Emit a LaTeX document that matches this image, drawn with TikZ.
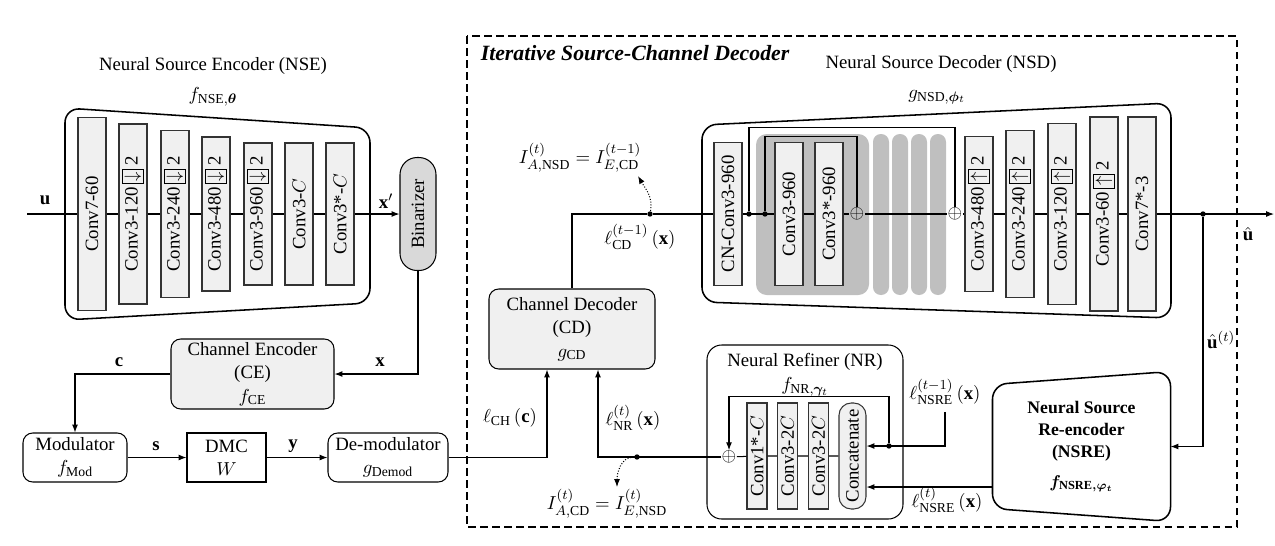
\documentclass[tikz,border=0pt,11pt]{standalone}
\usepackage{fontspec}
\setmainfont{Liberation Serif}
\usepackage{amsmath}
\usepackage{bm}
\usetikzlibrary{arrows.meta,calc}

\setlength{\fboxsep}{1pt}
\setlength{\fboxrule}{0.6pt}
\newcommand{\pxu}{0.0205cm}
\newcommand{\dsamp}{\,\fbox{$\downarrow$}\,2}
\newcommand{\usamp}{\,\fbox{$\uparrow$}\,2}

\tikzset{
  convlayer/.style={draw=black!80, fill=gray!12, rotate=90, inner sep=0pt,
    minimum height=28*\pxu, minimum width=#1*\pxu},
  boxsize/.style 2 args={minimum width=#1*\pxu, minimum height=#2*\pxu},
  blockbox/.style={draw, rounded corners=2mm, align=center, inner sep=0pt},
  grayblock/.style={blockbox, fill=gray!12},
  resfill/.style={fill=black!25, inner sep=0pt},
  arr/.style={-{Latex[length=1.6mm,width=1.2mm]}},
  joint/.style={circle, fill, inner sep=0pt, minimum size=1.1mm},
  trapframe/.style={line width=0.9pt, rounded corners=3mm},
}

\begin{document}
\begin{tikzpicture}[x=\pxu, y=-\pxu, line width=0.6pt]
  \useasboundingbox (0,0) rectangle (1275,545);

  % neural source encoder
  \draw[trapframe] (65,214) -- (65,108) -- (370,128) -- (370,303) -- (65,320) -- cycle;
  \node (nsetitle) at (213,66) {Neural Source Encoder (NSE)};
  \node (nsefun) at (213,97) {$f_{\mathrm{NSE},\boldsymbol{\theta}}$};
  \coordinate (uin) at (27,214);
  \node[convlayer=193] (enc1) at (92,214) {Conv7-60};
  \node[convlayer=180] (enc2) at (133,214) {Conv3-120\dsamp};
  \node[convlayer=167] (enc3) at (175,214) {Conv3-240\dsamp};
  \node[convlayer=154] (enc4) at (216,214) {Conv3-480\dsamp};
  \node[convlayer=142] (enc5) at (258,214) {Conv3-960\dsamp};
  \node[convlayer=142] (enc6) at (299,214) {Conv3-$C$};
  \node[convlayer=142] (enc7) at (340,214) {Conv3*-$C$};
  \node[blockbox, rotate=90, fill=gray!30, rounded corners=3.5mm, boxsize={113}{36}] (bin) at (418,214) {Binarizer};
  \draw (uin) -- (enc1) -- (enc2) -- (enc3) -- (enc4) -- (enc5) -- (enc6) -- (enc7);
  \draw[arr] (enc7) -- (bin);
  \node (ulab) at (45,200) {$\mathbf{u}$};
  \node (xplab) at (386,201) {$\mathbf{x}'$};

  % channel encoder, modulator, channel
  \node[grayblock, boxsize={163}{70}] (ce) at (252.5,374) {Channel Encoder\\(CE)\\$f_{\mathrm{CE}}$};
  \node[blockbox, boxsize={104}{49}] (mod) at (75,457.5) {Modulator\\$f_{\mathrm{Mod}}$};
  \node[draw, align=center, inner sep=0pt, boxsize={79}{49}] (dmc) at (226.5,457.5) {DMC\\$W$};
  \node[blockbox, boxsize={120}{49}] (demod) at (388,457.5) {De-modulator\\$g_{\mathrm{Demod}}$};
  \draw[arr] (bin.west) |- (ce.east);
  \node (xlab) at (380,362) {$\mathbf{x}$};
  \draw[arr] (ce.west) -| (mod.north);
  \node (clab) at (119,362) {$\mathbf{c}$};
  \draw[arr] (mod) -- (dmc);
  \node (slab) at (156,446) {$\mathbf{s}$};
  \draw[arr] (dmc) -- (demod);
  \node (ylab) at (293,446) {$\mathbf{y}$};

  % iterative decoder
  \draw[dash pattern=on 4.5pt off 2.5pt, line width=0.7pt] (467,36) rectangle (1237,527);
  \node[anchor=west, font=\fontsize{12.7}{15}\selectfont\bfseries\itshape] (isctitle) at (474,53) {Iterative Source-Channel Decoder};

  \node[grayblock, boxsize={166}{80}] (cd) at (572,329) {Channel Decoder\\(CD)\\$g_{\mathrm{CD}}$};
  \draw[arr] (demod) -| ($(cd.south)+(-25,0)$);
  \node (lchlab) at (510,418) {$\ell_{\mathrm{CH}}\,\mathbf{(c)}$};

  % neural source decoder
  \draw[trapframe] (702,214) -- (702,125) -- (1171,103) -- (1171,318) -- (702,302) -- cycle;
  \node (nsdtitle) at (941,64) {Neural Source Decoder (NSD)};
  \node (nsdfun) at (937,97) {$g_{\mathrm{NSD},\boldsymbol{\phi}_t}$};
  \node[resfill, rounded corners=2.2mm, boxsize={113}{161}] (res) at (812.5,214.5) {};
  \foreach \x [count=\i] in {881,900,919,938}
    \node[resfill, rounded corners=1.6mm, boxsize={16}{161}] (pill\i) at (\x,214.5) {};
  \node[convlayer=143] (cn) at (728,214) {CN-Conv3-960};
  \node[convlayer=143] (rc1) at (789,214) {Conv3-960};
  \node[convlayer=143] (rc2) at (829,214) {Conv3*-960};
  \node[inner sep=0pt] (pa) at (857,214) {$\oplus$};
  \node[inner sep=0pt] (pb) at (955,214) {$\oplus$};
  \node[convlayer=155] (up1) at (979,214) {Conv3-480\usamp};
  \node[convlayer=167] (up2) at (1020,214) {Conv3-240\usamp};
  \node[convlayer=181] (up3) at (1062,214) {Conv3-120\usamp};
  \node[convlayer=194] (up4) at (1104,214) {Conv3-60\usamp};
  \node[convlayer=194] (last) at (1142,214) {Conv7*-3};
  \node[joint] (dcd) at (650,214) {};
  \node[joint] (sk1) at (749,214) {};
  \node[joint] (sk2) at (765,214) {};
  \node[joint] (dout) at (1203,214) {};
  \coordinate (uhat) at (1274,214);
  \draw (cd.north) |- (dcd) -- (cn) -- (rc1) -- (rc2) -- (pa) -- (pb) -- (up1) -- (up2) -- (up3) -- (up4) -- (last);
  \draw[arr] (last) -- (uhat);
  \draw (sk1) |- ($(pb.north)+(0,-80)$) -- (pb.north);
  \draw (sk2) |- ($(pa.north)+(0,-71)$) -- (pa.north);
  \node (uhatlab) at (1248,234) {$\hat{\mathbf{u}}$};
  \node (lcdlab) at (640,237) {$\ell^{(t-1)}_{\mathrm{CD}}\,\mathbf{(x)}$};
  \node (iansd) at (580,158) {$I^{(t)}_{A,\mathrm{NSD}} = I^{(t-1)}_{E,\mathrm{CD}}$};
  \coordinate (tipa) at (638,176);
  \draw[arr, densely dotted] (dcd) to[out=80, in=-60] (tipa);

  % neural source re-encoder
  \node[align=center, boxsize={177}{136}, font=\fontsize{10.3}{13}\selectfont\bfseries] (nsre) at (1081.5,446.5)
    {Neural Source\\Re-encoder\\(NSRE)\\[4pt]{\boldmath$f_{\mathrm{NSRE},\varphi_t}$}};
  \draw[trapframe] (nsre.west) -- ($(nsre.north west)+(0,6.5)$) -- ($(nsre.north east)+(0,-6.5)$)
    -- ($(nsre.south east)+(0,6.5)$) -- ($(nsre.south west)+(0,-6.5)$) -- cycle;
  \draw[arr] (dout) |- (nsre.east);
  \node[anchor=west, inner sep=1pt] (uhattlab) at (1205,340) {$\hat{\mathbf{u}}^{(t)}$};

  % neural refiner
  \node[blockbox, rounded corners=3mm, boxsize={196}{174}] (nr) at (805,432) {};
  \node (nrtitle) at (805,362) {Neural Refiner (NR)};
  \node (nrfun) at (805,387) {$f_{\mathrm{NR},\boldsymbol{\gamma}_t}$};
  \node[inner sep=0pt] (nrplus) at (729,457) {$\oplus$};
  \node[convlayer=106, minimum height=20*\pxu] (nr1) at (757,456) {Conv1*-$C$};
  \node[convlayer=106, minimum height=20*\pxu] (nr2) at (787.5,456) {Conv3-2$C$};
  \node[convlayer=106, minimum height=20*\pxu] (nr3) at (818.5,456) {Conv3-2$C$};
  \node[convlayer=106, minimum height=27*\pxu, rounded corners=2.5mm] (cat) at (852.5,456) {Concatenate};
  \draw (nrplus) -- (nr1) -- (nr2) -- (nr3) -- (cat);
  \node[joint] (dfb) at (889,446) {};
  \draw[arr] (dfb) |- ($(nrplus.north)+(0,-54)$) -- (nrplus.north);
  \node (lprev) at (945,392) {$\ell^{(t-1)}_{\mathrm{NSRE}}\,\mathbf{(x)}$};
  \draw[arr] (lprev.south) |- ($(cat.south)+(0,-10)$);
  \coordinate (nsreo) at ($(nsre.west)+(0,40.5)$);
  \draw[arr] (nsreo) -- (nsreo -| cat.south);
  \node (lnsre) at (947,500) {$\ell^{(t)}_{\mathrm{NSRE}}\,\mathbf{(x)}$};

  % refined llr back to channel decoder
  \node[joint] (dnr) at (637,457) {};
  \draw[arr] (nrplus) -| ($(cd.south)+(26,0)$);
  \node (lnrlab) at (633,418) {$\ell^{(t)}_{\mathrm{NR}}\,\mathbf{(x)}$};
  \node (iacd) at (607,504) {$I^{(t)}_{A,\mathrm{CD}} = I^{(t)}_{E,\mathrm{NSD}}$};
  \coordinate (tipb) at (617,487);
  \draw[arr, densely dotted] (dnr) to[out=180, in=90] (tipb);
\end{tikzpicture}
\end{document}
